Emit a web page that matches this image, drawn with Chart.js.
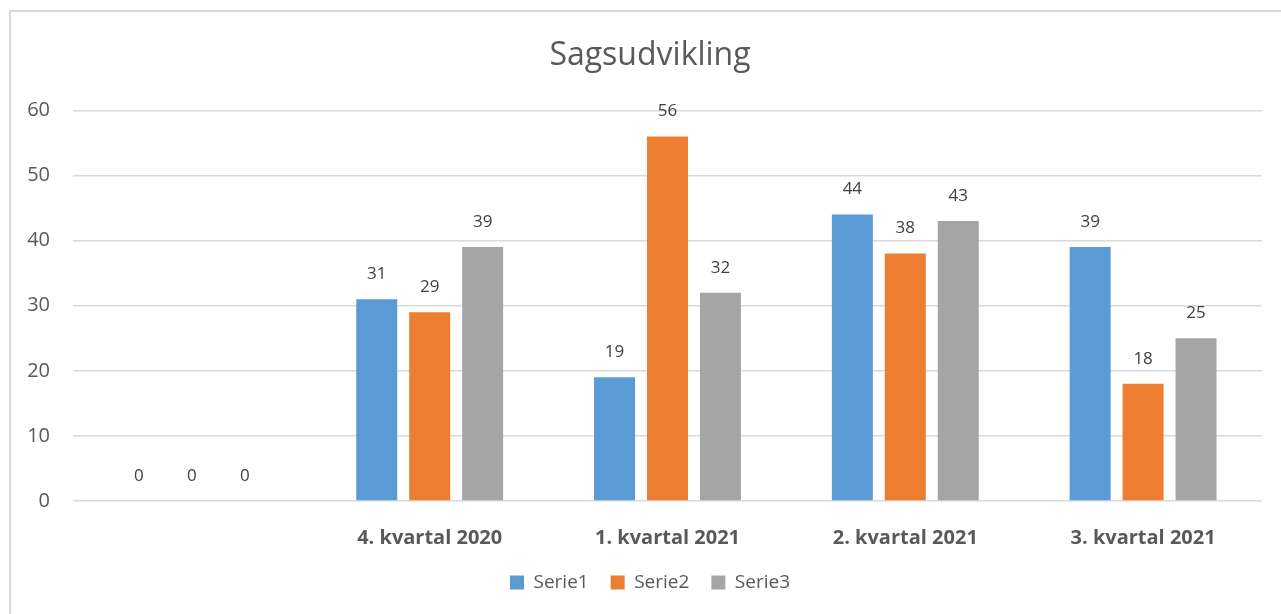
<!DOCTYPE html>
<html>
<head>
<meta charset="utf-8">
<script src="https://cdn.jsdelivr.net/npm/chart.js@4.4.1/dist/chart.umd.min.js"></script>
<style>
  html, body { margin: 0; padding: 0; background: #fff; overflow: hidden; }
  #frame {
    position: absolute; left: 9px; top: 10px;
    width: 1290px; height: 620px;
    border-left: 2px solid #d9d9d9; border-top: 2px solid #d9d9d9;
  }
  #chart { position: absolute; left: 0; top: 0; }
</style>
</head>
<body>
<div id="frame"><canvas id="chart" width="1278" height="602"></canvas></div>
<script>
// data
const categories = ["", "4. kvartal 2020", "1. kvartal 2021", "2. kvartal 2021", "3. kvartal 2021"];
const serie1 = [0, 31, 19, 44, 39];
const serie2 = [0, 29, 56, 38, 18];
const serie3 = [0, 39, 32, 43, 25];
const yTicks = [0, 10, 20, 30, 40, 50, 60];

const FONT = "'Open Sans', sans-serif";
const GREY = "#595959";

// value labels on top of each bar
const barValues = {
    id: "barValues",
    afterDatasetsDraw(chart) {
        const ctx = chart.ctx;
        ctx.save();
        ctx.font = "17px " + FONT;
        ctx.fillStyle = "#404040";
        ctx.textAlign = "center";
        ctx.textBaseline = "middle";
        chart.data.datasets.forEach((ds, i) => {
            const meta = chart.getDatasetMeta(i);
            meta.data.forEach((bar, j) => {
                ctx.fillText(String(ds.data[j]), bar.x, bar.y - 25);
            });
        });
        ctx.restore();
    }
};

new Chart(document.getElementById("chart"), {
    type: "bar",
    data: {
        labels: categories,
        datasets: [
            { label: "Serie1", data: serie1, backgroundColor: "#5B9BD5" },
            { label: "Serie2", data: serie2, backgroundColor: "#ED7D31" },
            { label: "Serie3", data: serie3, backgroundColor: "#A5A5A5" },
        ],
    },
    options: {
        responsive: false,
        devicePixelRatio: 1,
        animation: false,
        categoryPercentage: 0.668,
        barPercentage: 0.774,
        layout: { padding: { left: 0, right: 0, top: 0, bottom: 12 } },
        plugins: {
            title: {
                display: true,
                text: "Sagsudvikling",
                color: GREY,
                font: { family: FONT, size: 32, weight: "normal" },
                padding: { top: 25, bottom: 35 },
            },
            legend: {
                position: "bottom",
                labels: {
                    color: GREY,
                    font: { family: FONT, size: 19 },
                    boxWidth: 14,
                    boxHeight: 14,
                    padding: 22,
                },
            },
            tooltip: { enabled: false },
        },
        scales: {
            x: {
                grid: { display: false },
                border: { display: false },
                afterFit(scale) { scale.height = 50; },
                ticks: {
                    color: GREY,
                    padding: 17,
                    font: { family: FONT, size: 20, weight: "bold" },
                },
            },
            y: {
                min: 0,
                max: 60,
                afterBuildTicks(scale) {
                    scale.ticks = yTicks.map(v => ({ value: v }));
                },
                afterFit(scale) { scale.width = 62; },
                grid: { color: "#d9d9d9", lineWidth: 1.5, drawTicks: false },
                border: { display: false },
                ticks: {
                    color: GREY,
                    padding: 23,
                    font: { family: FONT, size: 20 },
                },
            },
            // empty right gutter so title and legend sit where the reference has them
            gutter: {
                position: "right",
                grid: { display: false },
                border: { display: false },
                ticks: { display: false },
                afterFit(scale) { scale.width = 27; },
            },
        },
    },
    plugins: [barValues],
});
</script>
</body>
</html>
